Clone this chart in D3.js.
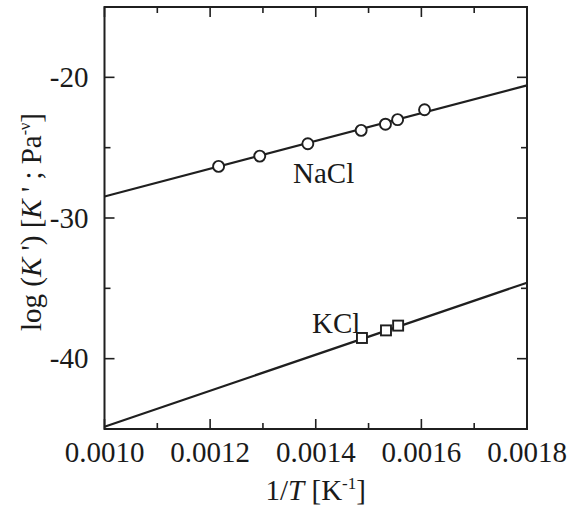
<!DOCTYPE html>
<html>
<head>
<meta charset="utf-8">
<script src="https://cdn.jsdelivr.net/npm/d3@7"></script>
<style>
  body { margin: 0; background: #fff; }
  svg text { font-family: "Liberation Serif", "DejaVu Serif", serif; fill: #1a1a1a; }
</style>
</head>
<body>
<div id="chart"></div>
<script>
// log(K') vs 1/T for NaCl and KCl

// data
const naclInvT = [0.001216, 0.001294, 0.001385, 0.001486, 0.001532, 0.001555, 0.001606];
const naclLogK = [-26.33, -25.60, -24.72, -23.77, -23.33, -23.01, -22.30];

const kclInvT = [0.0014875, 0.001533, 0.001556];
const kclLogK = [-38.53, -37.99, -37.65];

// fitted lines, value at 1/T = 0.0010 and 0.0018
const fitX = [0.0010, 0.0018];
const naclFit = [-28.47, -20.57];
const kclFit = [-44.84, -34.60];

const xTicks = [0.0010, 0.0012, 0.0014, 0.0016, 0.0018];
const xMinor = [0.0011, 0.0013, 0.0015, 0.0017];
const yTicks = [-20, -30, -40];
const yMinor = [-15, -25, -35, -45];

const width = 578;
const height = 508;
const margin = { top: 7, right: 51, bottom: 79, left: 104.5 };

const svg = d3.select("#chart")
  .append("svg")
  .attr("width", width)
  .attr("height", height);

const x = d3.scaleLinear().domain([0.0010, 0.0018]).range([margin.left, width - margin.right]);
const y = d3.scaleLinear().domain([-45, -15]).range([height - margin.bottom, margin.top]);

const ink = "#1f1f1f";
const fs = "29px";

// ticks (inward, on all four sides)
const major = 10, minor = 6;
const g = svg.append("g").attr("stroke", ink).attr("stroke-width", 1.6);

xTicks.concat(xMinor).forEach(v => {
  const len = xTicks.includes(v) ? major : minor;
  g.append("line").attr("x1", x(v)).attr("x2", x(v))
    .attr("y1", y(-45)).attr("y2", y(-45) - len);
  g.append("line").attr("x1", x(v)).attr("x2", x(v))
    .attr("y1", y(-15)).attr("y2", y(-15) + len);
});
yTicks.concat(yMinor).forEach(v => {
  const len = yTicks.includes(v) ? major : minor;
  g.append("line").attr("y1", y(v)).attr("y2", y(v))
    .attr("x1", x(0.0010)).attr("x2", x(0.0010) + len);
  g.append("line").attr("y1", y(v)).attr("y2", y(v))
    .attr("x1", x(0.0018)).attr("x2", x(0.0018) - len);
});

// frame
svg.append("rect")
  .attr("x", x(0.0010))
  .attr("y", y(-15))
  .attr("width", x(0.0018) - x(0.0010))
  .attr("height", y(-45) - y(-15))
  .attr("fill", "none")
  .attr("stroke", ink)
  .attr("stroke-width", 2);

// tick labels
svg.append("g").selectAll("text")
  .data(xTicks)
  .join("text")
  .attr("x", d => x(d))
  .attr("y", y(-45) + 33)
  .attr("text-anchor", "middle")
  .style("font-size", fs)
  .text(d => d.toFixed(4));

svg.append("g").selectAll("text")
  .data(yTicks)
  .join("text")
  .attr("x", x(0.0010) - 16)
  .attr("y", d => y(d) + 9.5)
  .attr("text-anchor", "end")
  .style("font-size", fs)
  .text(d => d);

// axis titles
const xt = svg.append("text")
  .attr("x", (x(0.0010) + x(0.0018)) / 2)
  .attr("y", height - 8)
  .attr("text-anchor", "middle")
  .style("font-size", fs);
xt.append("tspan").text("1/");
xt.append("tspan").style("font-style", "italic").text("T");
xt.append("tspan").text(" [K");
xt.append("tspan").attr("dy", -11).style("font-size", "17px").text("-1");
xt.append("tspan").attr("dy", 11).text("]");

const yt = svg.append("text")
  .attr("transform", `translate(41,${(y(-15) + y(-45)) / 2 + 4}) rotate(-90)`)
  .attr("text-anchor", "middle")
  .style("font-size", fs);
yt.append("tspan").text("log (");
yt.append("tspan").style("font-style", "italic").text("K");
yt.append("tspan").text(" ') [");
yt.append("tspan").style("font-style", "italic").text("K");
yt.append("tspan").text(" ' ; Pa");
yt.append("tspan").attr("dy", -11).style("font-size", "16px").text("-ν");
yt.append("tspan").attr("dy", 11).text("]");

// fit lines
const line = d3.line().x(d => x(d[0])).y(d => y(d[1]));
[naclFit, kclFit].forEach(fit => {
  svg.append("path")
    .datum(fitX.map((v, i) => [v, fit[i]]))
    .attr("d", line)
    .attr("fill", "none")
    .attr("stroke", ink)
    .attr("stroke-width", 2.2);
});

// NaCl circles
svg.append("g").selectAll("circle")
  .data(naclInvT.map((v, i) => [v, naclLogK[i]]))
  .join("circle")
  .attr("cx", d => x(d[0]))
  .attr("cy", d => y(d[1]))
  .attr("r", 5.5)
  .attr("fill", "#fff")
  .attr("stroke", ink)
  .attr("stroke-width", 1.9);

// KCl squares
const sq = 10;
svg.append("g").selectAll("rect")
  .data(kclInvT.map((v, i) => [v, kclLogK[i]]))
  .join("rect")
  .attr("x", d => x(d[0]) - sq / 2)
  .attr("y", d => y(d[1]) - sq / 2)
  .attr("width", sq)
  .attr("height", sq)
  .attr("fill", "#fff")
  .attr("stroke", ink)
  .attr("stroke-width", 1.9);

// series labels
svg.append("text")
  .attr("x", x(0.001357))
  .attr("y", y(-27.54))
  .style("font-size", fs)
  .text("NaCl");

svg.append("text")
  .attr("x", x(0.001393))
  .attr("y", y(-38.2))
  .style("font-size", fs)
  .text("KCl");
</script>
</body>
</html>
